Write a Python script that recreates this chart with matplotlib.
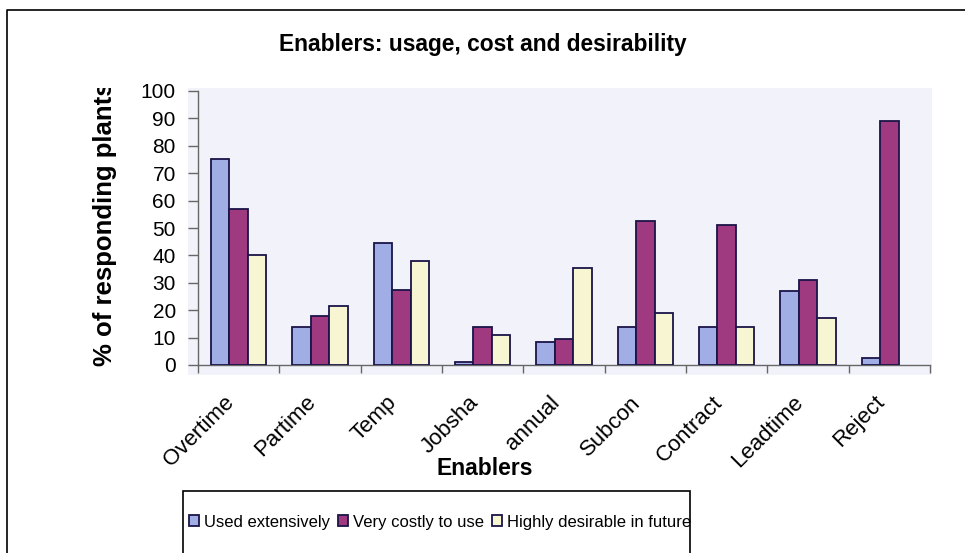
import numpy as np
import matplotlib
matplotlib.use("Agg")
import matplotlib.pyplot as plt
from matplotlib.patches import Rectangle
from matplotlib.lines import Line2D
from matplotlib.transforms import Bbox, TransformedBbox

plt.rcParams["font.family"] = ["Liberation Sans", "DejaVu Sans"]

enablers = ["Overtime", "Partime", "Temp", "Jobsha", "annual",
            "Subcon", "Contract", "Leadtime", "Reject"]
used_extensively = [75, 14, 44.5, 1, 8.5, 14, 14, 27, 2.5]
very_costly = [57, 18, 27.5, 14, 9.5, 52.5, 51, 31, 89]
highly_desirable = [40, 21.5, 38, 11, 35.5, 19, 14, 17, np.nan]  # no answer for Reject
series_names = ["Used extensively", "Very costly to use", "Highly desirable in future"]
series_colors = ["#a1aee6", "#a03a80", "#f8f6d2"]
yticks = list(range(0, 101, 10))

W, H = 965, 553
fig = plt.figure(figsize=(W / 100, H / 100), dpi=100)
fig.patch.set_facecolor("white")

def fx(px):
    return px / W

def fy(py):
    return 1 - py / H

# pale plot-area panel behind the axes
fig.add_artist(Rectangle((fx(188), fy(375)), fx(932) - fx(188), fy(88) - fy(375),
                         transform=fig.transFigure, facecolor="#f2f2fa",
                         edgecolor="none", zorder=-5))

# outer chart border (left and top edges)
fig.add_artist(Line2D([fx(7), fx(7), 1.0], [0.0, fy(10), fy(10)],
                      transform=fig.transFigure, color="black", lw=1.2))

ax = fig.add_axes([fx(198), fy(365), fx(930) - fx(198), fy(91) - fy(365)])
ax.set_facecolor("none")

x = np.arange(len(enablers))
bw = 0.228
for i, (vals, name, col) in enumerate(zip([used_extensively, very_costly, highly_desirable],
                                          series_names, series_colors)):
    ax.bar(x + (i - 1) * bw, vals, bw, color=col, edgecolor="#1a1448",
           linewidth=1.3, label=name, zorder=3)

ax.set_xlim(-0.5, len(enablers) - 0.5)
ax.set_ylim(0, 100)
ax.set_yticks(yticks)
ax.set_yticklabels([str(t) for t in yticks], fontsize=15)
ax.tick_params(axis="y", direction="out", length=7, width=1, color="#666666", pad=9)

ax.set_xticks(x)
ax.set_xticks(np.arange(-0.5, len(enablers), 1.0), minor=True)
ax.set_xticklabels(enablers, fontsize=16, rotation=45, ha="right",
                   va="bottom", rotation_mode="anchor")
ax.tick_params(axis="x", which="major", length=0, pad=30)
ax.tick_params(axis="x", which="minor", direction="out", length=6, width=1,
               color="#666666")

for side in ["top", "right"]:
    ax.spines[side].set_visible(False)
for side in ["left", "bottom"]:
    ax.spines[side].set_color("#666666")
    ax.spines[side].set_linewidth(1)

fig.text(fx(483), fy(44), "Enablers: usage, cost and desirability",
         fontsize=16.4, fontweight="bold", ha="center", va="center")
fig.text(fx(485), fy(475), "Enablers", fontsize=16.5, fontweight="bold",
         ha="center", va="baseline")

ylab = fig.text(fx(105), fy(366), "% of responding plants", fontsize=18.5,
                fontweight="bold", rotation=90, ha="center", va="bottom")
ylab.set_clip_on(True)
ylab.set_clip_box(TransformedBbox(Bbox([[0, 0], [fx(190), fy(88)]]), fig.transFigure))

# legend box runs off the bottom edge
fig.add_artist(Rectangle((fx(183), -0.05), fx(690) - fx(183), fy(491) + 0.05,
                         transform=fig.transFigure, facecolor="white",
                         edgecolor="black", lw=1.2, zorder=1))
handles, labels = ax.get_legend_handles_labels()
leg = fig.legend(handles, labels, loc="center", bbox_to_anchor=(fx(440), fy(522)),
                 ncol=3, frameon=False, fontsize=12, handlelength=0.6,
                 handleheight=0.6, handletextpad=0.3, columnspacing=0.5)
leg.set_zorder(2)

fig.savefig("out.png", dpi=100)
